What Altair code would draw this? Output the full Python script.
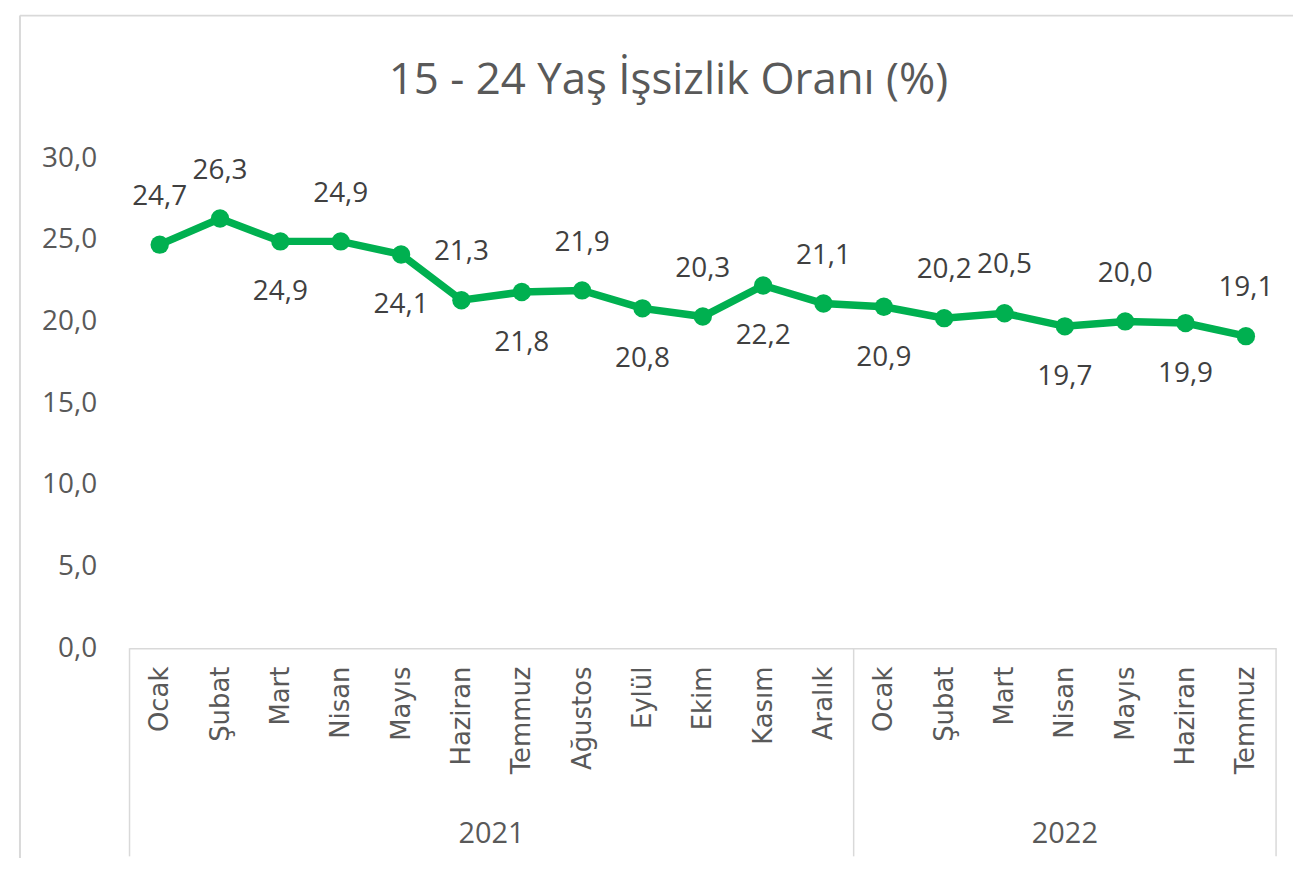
import json
import altair as alt
import pandas as pd

# ---- data ----
months = ["Ocak", "Şubat", "Mart", "Nisan", "Mayıs", "Haziran", "Temmuz", "Ağustos",
          "Eylül", "Ekim", "Kasım", "Aralık",
          "Ocak", "Şubat", "Mart", "Nisan", "Mayıs", "Haziran", "Temmuz"]
values = [24.7, 26.3, 24.9, 24.9, 24.1, 21.3, 21.8, 21.9, 20.8, 20.3, 22.2, 21.1,
          20.9, 20.2, 20.5, 19.7, 20.0, 19.9, 19.1]
label_side = ["above", "above", "below", "above", "below", "above", "below", "above",
              "below", "above", "below", "above",
              "below", "above", "above", "below", "above", "below", "above"]
years = ["2021", "2022"]
months_per_year = [12, 7]
y_ticks = [0, 5, 10, 15, 20, 25, 30]
title_text = "15 - 24 Yaş İşsizlik Oranı (%)"

# ---- tables ----
n = len(months)
df = pd.DataFrame({"idx": list(range(n)), "month": months, "value": values, "side": label_side})

centers, bounds = [], [-0.5]
s = 0
for c in months_per_year:
    centers.append(s + (c - 1) / 2)
    s += c
    bounds.append(s - 0.5)
year_df = pd.DataFrame({"year": years, "center": centers})
bound_df = pd.DataFrame({"b": bounds})
title_df = pd.DataFrame({"t": [title_text]})

W, H = 1151, 492
GREEN = "#00B050"
GRAY_TXT = "#595959"
DARK_TXT = "#404040"
FRAME = "#D9D9D9"
NUM_FONT = "Open Sans"

xscale = alt.Scale(domain=[-0.5, n - 0.5], nice=False, zero=False)
yscale = alt.Scale(domain=[0, 30], nice=False)

label_expr = json.dumps(months, ensure_ascii=False) + "[datum.value]"

x_enc = alt.X("idx:Q", scale=xscale, title=None,
              axis=alt.Axis(values=list(range(n)), labelExpr=label_expr, labelAngle=270,
                            labelAlign="right", labelBaseline="middle", ticks=False, grid=False,
                            labelFont="DejaVu Sans", labelFontSize=26, labelColor=GRAY_TXT,
                            labelPadding=18, domainColor=FRAME, domainWidth=1.5,
                            labelOverlap=False, labelFlush=False))
y_enc = alt.Y("value:Q", scale=yscale, title=None,
              axis=alt.Axis(values=y_ticks, labelExpr="replace(format(datum.value, '.1f'), '.', ',')",
                            domain=False, ticks=False, grid=False, labelFont=NUM_FONT,
                            labelFontSize=28, labelColor=GRAY_TXT, labelPadding=33))

base = alt.Chart(df).transform_calculate(
    label="replace(format(datum.value, '.1f'), '.', ',')"
)

line = base.mark_line(color=GREEN, strokeWidth=7.5).encode(x=x_enc, y=y_enc)
pts = base.mark_circle(color=GREEN, size=340, opacity=1).encode(x="idx:Q", y="value:Q")
lab_above = base.transform_filter("datum.side == 'above'").mark_text(
    dy=-48, fontSize=28, font=NUM_FONT, color=DARK_TXT, baseline="middle"
).encode(x="idx:Q", y="value:Q", text="label:N")
lab_below = base.transform_filter("datum.side == 'below'").mark_text(
    dy=51, fontSize=28, font=NUM_FONT, color=DARK_TXT, baseline="middle"
).encode(x="idx:Q", y="value:Q", text="label:N")

seps = alt.Chart(bound_df).mark_rule(color=FRAME, strokeWidth=1.5).encode(
    x="b:Q", y=alt.value(H), y2=alt.value(H + 209)
)
year_text = alt.Chart(year_df).mark_text(
    fontSize=29, font=NUM_FONT, color=GRAY_TXT, baseline="middle"
).encode(x="center:Q", y=alt.value(H + 187), text="year:N")

title = alt.Chart(title_df).mark_text(
    fontSize=44, font=NUM_FONT, color=GRAY_TXT, baseline="middle"
).encode(x=alt.value(541), y=alt.value(-77), text="t:N")

frame_left = alt.Chart(title_df).mark_rule(color=FRAME, strokeWidth=2).encode(
    x=alt.value(-110), y=alt.value(-143), y2=alt.value(H + 220)
)
frame_top = alt.Chart(title_df).mark_rule(color=FRAME, strokeWidth=2).encode(
    x=alt.value(-110), x2=alt.value(W + 30), y=alt.value(-143)
)

chart = alt.layer(
    frame_left, frame_top, seps, line, pts, lab_above, lab_below, year_text, title
).properties(
    width=W, height=H,
    autosize=alt.AutoSizeParams(type="none"),
    padding={"left": 122, "top": 149, "right": 17, "bottom": 209},
).configure(background="white", view=alt.ViewConfig(stroke=None))

chart.save("out.html", embed_options={"renderer": "svg", "actions": False})
